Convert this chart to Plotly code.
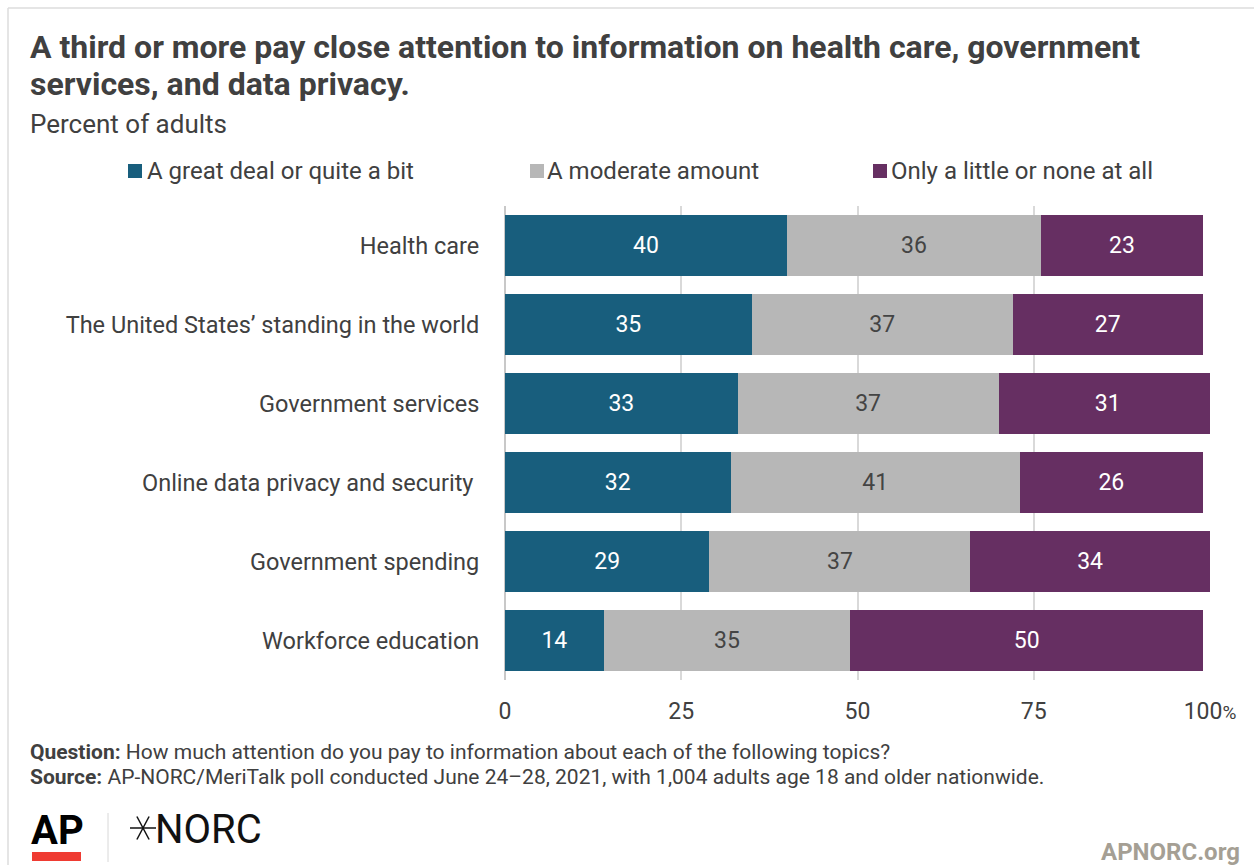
import math
import plotly.graph_objects as go

# Survey topics (top to bottom) and response shares, percent of adults
topics = [
    "Health care",
    "The United States\u2019 standing in the world",
    "Government services",
    "Online data privacy and security\u00a0",
    "Government spending",
    "Workforce education",
]
great_deal = [40, 35, 33, 32, 29, 14]
moderate = [36, 37, 37, 41, 37, 35]
little_none = [23, 27, 31, 26, 34, 50]

series_names = ["A great deal or quite a bit", "A moderate amount", "Only a little or none at all"]
series_colors = ["#185e7d", "#b7b7b7", "#662f62"]
label_colors = ["#ffffff", "#444444", "#ffffff"]

tick_vals = [0, 25, 50, 75, 100]
tick_text = ["0", "25", "50", "75", "100<span style='font-size:19px'>%</span>"]

W, H = 1254, 865
PL, PR, PT, PB = 505, 1210, 206, 680  # plot area in pixels

def px(x):
    return (x - PL) / (PR - PL)

def py(y):
    return (PB - y) / (PB - PT)

FONT = "Roboto, 'Open Sans', sans-serif"
TXT = "#404040"

fig = go.Figure()
for name, vals, col, lc in zip(series_names, [great_deal, moderate, little_none], series_colors, label_colors):
    fig.add_trace(go.Bar(
        y=topics, x=vals, name=name, orientation="h",
        marker=dict(color=col, line=dict(width=0)),
        text=vals, texttemplate="%{x}", textposition="inside",
        insidetextanchor="middle", textangle=0, constraintext="none",
        insidetextfont=dict(family=FONT, size=23, color=lc),
        showlegend=False, hoverinfo="skip",
    ))

fig.update_layout(
    width=W, height=H, barmode="stack", bargap=0.23,
    paper_bgcolor="white", plot_bgcolor="white",
    margin=dict(l=PL, r=W - PR, t=PT, b=H - PB, pad=0),
    font=dict(family=FONT, color=TXT),
    xaxis=dict(
        range=[0, 100], tickvals=tick_vals, ticktext=tick_text,
        showgrid=True, gridcolor="#d9d9d9", gridwidth=1.5,
        zeroline=True, zerolinecolor="#c8c8c8", zerolinewidth=1.5,
        ticks="outside", ticklen=10, tickcolor="rgba(0,0,0,0)",
        tickfont=dict(size=23, color=TXT), fixedrange=True,
    ),
    yaxis=dict(
        categoryorder="array", categoryarray=topics, autorange="reversed",
        showgrid=False, zeroline=False, showline=False,
        ticks="outside", ticklen=20, tickcolor="rgba(0,0,0,0)",
        tickfont=dict(size=23.5, color=TXT), fixedrange=True,
    ),
)

ann = []
# Title and subtitle
ann.append(dict(x=px(28), y=py(47), xref="paper", yref="paper", xanchor="left", yanchor="middle",
                text="<b>A third or more pay close attention to information on health care, government</b>",
                showarrow=False, font=dict(size=32, color=TXT, family=FONT)))
ann.append(dict(x=px(28), y=py(84), xref="paper", yref="paper", xanchor="left", yanchor="middle",
                text="<b>services, and data privacy.</b>",
                showarrow=False, font=dict(size=32, color=TXT, family=FONT)))
ann.append(dict(x=px(28), y=py(124), xref="paper", yref="paper", xanchor="left", yanchor="middle",
                text="Percent of adults", showarrow=False, font=dict(size=26, color=TXT, family=FONT)))

# Legend
shapes = []
legend_x = [(128, 145), (530, 545), (873, 889)]
for (sx, tx), name, col in zip(legend_x, series_names, series_colors):
    shapes.append(dict(type="rect", xref="paper", yref="paper",
                       x0=px(sx), x1=px(sx + 14), y0=py(178), y1=py(164),
                       fillcolor=col, line=dict(width=0)))
    ann.append(dict(x=px(tx), y=py(171), xref="paper", yref="paper", xanchor="left", yanchor="middle",
                    text=name, showarrow=False, font=dict(size=24, color=TXT, family=FONT)))

# Notes
ann.append(dict(x=px(28), y=py(752), xref="paper", yref="paper", xanchor="left", yanchor="middle",
                text="<b>Question:</b> How much attention do you pay to information about each of the following topics?",
                showarrow=False, font=dict(size=21, color=TXT, family=FONT)))
ann.append(dict(x=px(28), y=py(777), xref="paper", yref="paper", xanchor="left", yanchor="middle",
                text="<b>Source:</b> AP-NORC/MeriTalk poll conducted June 24\u201328, 2021, with 1,004 adults age 18 and older nationwide.",
                showarrow=False, font=dict(size=21, color=TXT, family=FONT)))

# Logos
ann.append(dict(x=px(29), y=py(830), xref="paper", yref="paper", xanchor="left", yanchor="middle",
                text="<b>AP</b>", showarrow=False, font=dict(size=40, color="#000000", family=FONT)))
shapes.append(dict(type="rect", xref="paper", yref="paper", x0=px(32), x1=px(81), y0=py(861), y1=py(852),
                   fillcolor="#ef3b32", line=dict(width=0)))
shapes.append(dict(type="line", xref="paper", yref="paper", x0=px(108), x1=px(108), y0=py(813), y1=py(862),
                   line=dict(color="#d8d8d8", width=1)))
cx, cy, r = 143, 828, 13
for ang in (0, 62, 118):
    dx = r * math.cos(math.radians(ang))
    dy = r * math.sin(math.radians(ang))
    shapes.append(dict(type="line", xref="paper", yref="paper",
                       x0=px(cx - dx), x1=px(cx + dx), y0=py(cy - dy), y1=py(cy + dy),
                       line=dict(color="#111111", width=1.5)))
ann.append(dict(x=px(153), y=py(829), xref="paper", yref="paper", xanchor="left", yanchor="middle",
                text="NORC", showarrow=False, font=dict(size=40, color="#111111", family=FONT)))
ann.append(dict(x=px(1242), y=py(852), xref="paper", yref="paper", xanchor="right", yanchor="middle",
                text="<b>APNORC.org</b>", showarrow=False, font=dict(size=24, color="#a59f94", family=FONT)))

# Frame around the chart card
shapes.append(dict(type="line", xref="paper", yref="paper", x0=px(8), x1=px(1254), y0=py(8), y1=py(8),
                   line=dict(color="#dddddd", width=1.5)))
shapes.append(dict(type="line", xref="paper", yref="paper", x0=px(8), x1=px(8), y0=py(8), y1=py(865),
                   line=dict(color="#dddddd", width=1.5)))

fig.update_layout(annotations=ann, shapes=shapes)
fig.write_html("out.html", config={"displayModeBar": False})
